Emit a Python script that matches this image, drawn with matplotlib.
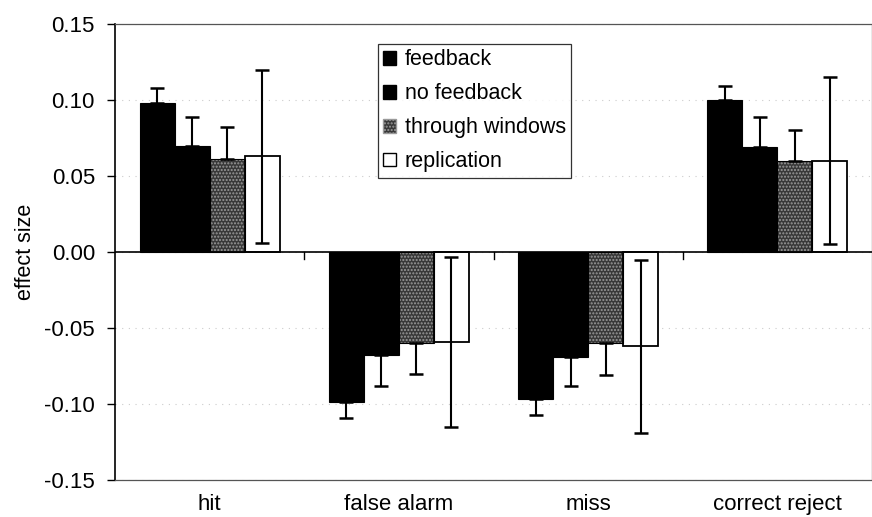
import matplotlib
matplotlib.use("Agg")
import matplotlib.pyplot as plt
import numpy as np
from matplotlib.patches import Patch

plt.rcParams['font.family'] = ['Liberation Sans', 'DejaVu Sans']

categories = ["hit", "false alarm", "miss", "correct reject"]
series = ["feedback", "no feedback", "through windows", "replication"]
feedback = [0.098, -0.099, -0.097, 0.100]
feedback_err = [0.010, 0.010, 0.010, 0.009]
no_feedback = [0.070, -0.068, -0.069, 0.069]
no_feedback_err = [0.019, 0.020, 0.019, 0.020]
through_windows = [0.061, -0.060, -0.060, 0.060]
through_windows_err = [0.021, 0.020, 0.021, 0.020]
replication = [0.063, -0.059, -0.062, 0.060]
replication_err = [0.057, 0.056, 0.057, 0.055]
yticks = [-0.15, -0.10, -0.05, 0.00, 0.05, 0.10, 0.15]
ytick_labels = ["-0.15", "-0.10", "-0.05", "0.00", "0.05", "0.10", "0.15"]

W, H = 872, 517
fig = plt.figure(figsize=(W / 100, H / 100), dpi=100)
ax = fig.add_axes([115 / W, 1 - 480 / H, 757 / W, 456 / H])

x = np.arange(len(categories))
bw = 0.185
offs = [-1.5 * bw, -0.5 * bw, 0.5 * bw, 1.5 * bw]

vals = [feedback, no_feedback, through_windows, replication]
errs = [feedback_err, no_feedback_err, through_windows_err, replication_err]

ax.grid(axis='y', color='#cccccc', linestyle=(0, (1, 5)), linewidth=0.8, zorder=0)

for i, (v, e) in enumerate(zip(vals, errs)):
    v = np.array(v)
    e = np.array(e)
    xs = x + offs[i]
    if i < 3:
        lower = np.where(v < 0, e, 0)
        upper = np.where(v > 0, e, 0)
        yerr = [lower, upper]
    else:
        yerr = [e, e]
    ax.errorbar(xs, v, yerr=yerr, fmt='none', ecolor='black', elinewidth=1.5,
                capsize=5, capthick=1.8, zorder=4 if i < 3 else 5)
    if i in (0, 1):
        ax.bar(xs, v, width=bw, color='black', edgecolor='black', linewidth=0.8, zorder=3)
    elif i == 2:
        ax.bar(xs, v, width=bw, color='#383838', edgecolor='#9a9a9a', hatch='.....',
               linewidth=0, zorder=3)
        ax.bar(xs, v, width=bw, facecolor='none', edgecolor='black', linewidth=0.8, zorder=3.1)
    else:
        ax.bar(xs, v, width=bw, color='white', edgecolor='black', linewidth=1.3, zorder=3)

ax.axhline(0, color='black', linewidth=1.2, zorder=4.5)
for b in [0.5, 1.5, 2.5]:
    ax.plot([b, b], [0, -0.0045], color='black', linewidth=1.0, zorder=4.5)

ax.set_xlim(-0.5, 3.5)
ax.set_ylim(-0.15, 0.15)
ax.set_yticks(yticks)
ax.set_yticklabels(ytick_labels, fontsize=16)
ax.set_xticks(x)
ax.set_xticklabels(categories, fontsize=16)
ax.tick_params(axis='x', length=0, pad=10)
ax.tick_params(axis='y', length=5.8, width=1, direction='out', pad=8.6)
ax.set_ylabel("effect size", fontsize=15.5, labelpad=6)

for s in ['top', 'bottom', 'right']:
    ax.spines[s].set_color('#555555')
    ax.spines[s].set_linestyle((0, (1, 1)))
    ax.spines[s].set_linewidth(0.9)
ax.spines['left'].set_color('black')
ax.spines['left'].set_linewidth(1.2)

handles = [
    Patch(facecolor='black', edgecolor='black'),
    Patch(facecolor='black', edgecolor='black'),
    Patch(facecolor='#383838', edgecolor='#9a9a9a', hatch='.....'),
    Patch(facecolor='white', edgecolor='black'),
]
leg = ax.legend(handles, series, loc='upper left', bbox_to_anchor=(0.347, 0.956),
                borderaxespad=0, fontsize=15.5, frameon=True, fancybox=False,
                handlelength=0.6, handleheight=0.6, handletextpad=0.4,
                labelspacing=0.6, borderpad=0.25)
leg.get_frame().set_edgecolor('black')
leg.get_frame().set_linewidth(0.9)

fig.savefig("out.png", dpi=100)
